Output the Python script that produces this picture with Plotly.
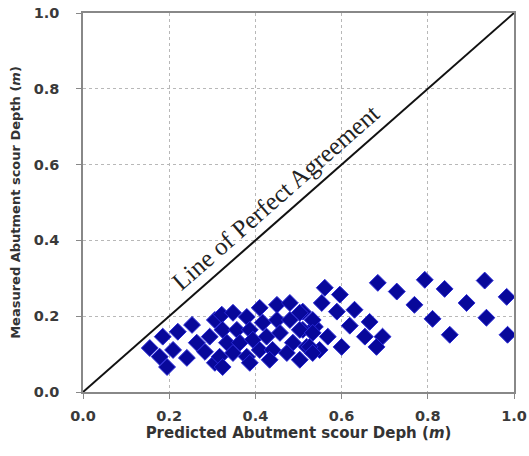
import plotly.graph_objects as go

# Predicted (x) and measured (y) abutment scour depth, metres
predicted = [
    0.793, 0.728, 0.839, 0.769, 0.811, 0.851, 0.932, 0.983, 0.890, 0.936, 0.985, 0.684,
    0.561, 0.596, 0.554, 0.589, 0.630, 0.510, 0.619, 0.665, 0.538, 0.654, 0.695, 0.568,
    0.600, 0.681, 0.549, 0.510, 0.519,
    0.155, 0.185, 0.220, 0.253, 0.178, 0.209, 0.195, 0.241, 0.264, 0.294, 0.306, 0.322,
    0.283, 0.306, 0.324,
    0.317, 0.348, 0.380, 0.410, 0.450, 0.480, 0.503, 0.533, 0.357, 0.387, 0.417, 0.450,
    0.480, 0.503, 0.533, 0.334, 0.364, 0.394, 0.426, 0.457, 0.487, 0.526, 0.348, 0.380,
    0.410, 0.440, 0.473, 0.324, 0.387, 0.433, 0.503, 0.533,
]
measured = [
    0.296, 0.265, 0.272, 0.230, 0.193, 0.151, 0.294, 0.251, 0.235, 0.196, 0.151, 0.288,
    0.275, 0.257, 0.235, 0.212, 0.217, 0.212, 0.175, 0.185, 0.172, 0.146, 0.146, 0.146,
    0.119, 0.119, 0.111, 0.164, 0.119,
    0.116, 0.146, 0.159, 0.177, 0.093, 0.111, 0.066, 0.090, 0.130, 0.146, 0.190, 0.204,
    0.106, 0.077, 0.164,
    0.093, 0.209, 0.198, 0.222, 0.230, 0.235, 0.209, 0.190, 0.164, 0.164, 0.183, 0.190,
    0.190, 0.164, 0.156, 0.130, 0.130, 0.138, 0.146, 0.156, 0.130, 0.119, 0.103, 0.093,
    0.111, 0.111, 0.103, 0.066, 0.077, 0.085, 0.085, 0.103,
]
line_x = [0.0, 1.0]
line_y = [0.0, 1.0]
tick_vals = [0.0, 0.2, 0.4, 0.6, 0.8, 1.0]

fig = go.Figure()
fig.add_trace(go.Scatter(
    x=line_x, y=line_y, mode="lines",
    line=dict(color="#111111", width=2), hoverinfo="skip", showlegend=False,
))
fig.add_trace(go.Scatter(
    x=predicted, y=measured, mode="markers",
    marker=dict(symbol="diamond", size=13, color="#08089a",
                line=dict(color="#2a2ad6", width=1)),
    showlegend=False,
))

fig.add_annotation(
    x=0.447, y=0.512, xref="x", yref="y",
    text="Line of Perfect Agreement", showarrow=False, textangle=-41.3,
    font=dict(family="Liberation Serif, Times New Roman, serif", size=25, color="#222222"),
)

axis_common = dict(
    range=[0, 1], tickvals=tick_vals, tickformat=".1f",
    showline=True, linecolor="#888888", linewidth=1.5, mirror=True,
    ticks="outside", ticklen=5, tickcolor="#888888",
    showgrid=True, gridcolor="#b8b8b8", gridwidth=1, griddash="3px,3px",
    zeroline=False, automargin=False,
    tickfont=dict(family="DejaVu Sans", size=14.5, color="#3a3a3a", weight="bold"),
)

fig.update_layout(
    width=529, height=456,
    margin=dict(l=83, r=15, t=13, b=64),
    paper_bgcolor="white", plot_bgcolor="white",
    xaxis=dict(**axis_common, ticklabelstandoff=5,
               title=dict(text="Predicted Abutment scour Deph (<i>m</i>)",
                          font=dict(family="DejaVu Sans", size=15, color="#333333", weight="bold"),
                          standoff=4)),
    yaxis=dict(**axis_common, ticklabelstandoff=14,
               title=dict(text="Measured Abutment scour Depth (<i>m</i>)",
                          font=dict(family="DejaVu Sans", size=13, color="#333333", weight="bold"),
                          standoff=10)),
)

fig.write_html("out.html", config={"displayModeBar": False},
               post_script="document.body.style.margin='0';")
